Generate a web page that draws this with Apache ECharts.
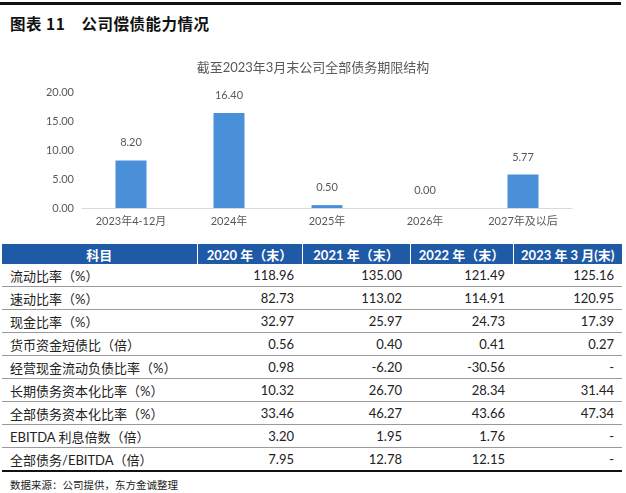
<!DOCTYPE html>
<html>
<head>
<meta charset="utf-8">
<script src="https://cdn.jsdelivr.net/npm/echarts@6/dist/echarts.min.js"></script>
<style>
  html, body { margin:0; padding:0; background:#fff; }
  body { width:626px; height:493px; position:relative; overflow:hidden;
         font-family: Lato, "Noto Sans CJK SC", sans-serif; }
  #topline { position:absolute; left:0; top:2px; width:621px; height:3px; background:#111; }
  #figtitle { position:absolute; left:10px; top:12px; font-size:15.5px; font-weight:bold; color:#111;
              font-family: "Noto Sans CJK SC", sans-serif; letter-spacing:0.5px; white-space:pre; }
  #chart { position:absolute; left:0; top:0; width:626px; height:240px; }
  #tbl { position:absolute; left:2px; top:244px; width:620px; border-collapse:collapse;
         font-size:13px; color:#222; table-layout:fixed; }
  #tbl th { background:#1f5aa6; color:#fff; font-weight:bold; height:20px; padding:0;
            border-left:1px solid #fff; font-size:13px; font-family: Lato, "Noto Sans CJK SC", sans-serif; }
  #tbl th:first-child { border-left:none; }
  #tbl td { height:22px; padding:0 8px; border-bottom:1px solid #9a9a9a; white-space:nowrap; }
  #tbl td.n { text-align:right; }
  #tbl tr:last-child td { border-bottom:2px solid #111; }
  #src { position:absolute; left:10px; top:477px; font-size:10.5px; color:#222;
         font-family: "Noto Sans CJK SC", sans-serif; }
</style>
</head>
<body>
<div id="topline"></div>
<div id="figtitle">图表 11    公司偿债能力情况</div>
<div id="chart"></div>
<table id="tbl"><colgroup>
  <col style="width:195px"><col style="width:105px"><col style="width:108px"><col style="width:103px"><col style="width:109px">
</colgroup><thead><tr id="hdr"></tr></thead><tbody id="tb"></tbody></table>
<div id="src">数据来源：公司提供，东方金诚整理</div>
<script>
// ---- chart data ----
const categories = ['2023年4-12月', '2024年', '2025年', '2026年', '2027年及以后'];
const debtValues = [8.20, 16.40, 0.50, 0.00, 5.77];
const yTicks = { min: 0, max: 20, interval: 5 };

// ---- table data ----
const tableHeader = ['科目', '2020 年（末）', '2021 年（末）', '2022 年（末）', '2023 年 3 月(末)'];
const rowNames = ['流动比率（%）', '速动比率（%）', '现金比率（%）', '货币资金短债比（倍）',
  '经营现金流动负债比率（%）', '长期债务资本化比率（%）', '全部债务资本化比率（%）',
  'EBITDA 利息倍数（倍）', '全部债务/EBITDA（倍）'];
const col2020 = ['118.96', '82.73', '32.97', '0.56', '0.98', '10.32', '33.46', '3.20', '7.95'];
const col2021 = ['135.00', '113.02', '25.97', '0.40', '-6.20', '26.70', '46.27', '1.95', '12.78'];
const col2022 = ['121.49', '114.91', '24.73', '0.41', '-30.56', '28.34', '43.66', '1.76', '12.15'];
const col2023Q1 = ['125.16', '120.95', '17.39', '0.27', '-', '31.44', '47.34', '-', '-'];

// build table
const hdr = document.getElementById('hdr');
tableHeader.forEach(h => { const th = document.createElement('th'); th.textContent = h; hdr.appendChild(th); });
const tb = document.getElementById('tb');
rowNames.forEach((name, i) => {
  const tr = document.createElement('tr');
  [name, col2020[i], col2021[i], col2022[i], col2023Q1[i]].forEach((v, j) => {
    const td = document.createElement('td'); td.textContent = v; if (j > 0) td.className = 'n'; tr.appendChild(td);
  });
  tb.appendChild(tr);
});

// chart
const chart = echarts.init(document.getElementById('chart'));
const grey = '#595959';
chart.setOption({
  animation: false,
  title: { text: '截至2023年3月末公司全部债务期限结构', left: 'center', top: 56,
           textStyle: { fontSize: 13, fontWeight: 'normal', color: grey, fontFamily: 'Lato, "Noto Sans CJK SC", sans-serif' } },
  grid: { left: 82, right: 54, top: 92, bottom: 32 },
  xAxis: { type: 'category', data: categories,
           axisLine: { lineStyle: { color: '#d9d9d9' } }, axisTick: { show: false },
           axisLabel: { color: grey, fontSize: 11, margin: 8, fontFamily: 'Lato, "Noto Sans CJK SC", sans-serif' } },
  yAxis: { type: 'value', min: yTicks.min, max: yTicks.max, interval: yTicks.interval,
           splitLine: { show: false }, axisLine: { show: false }, axisTick: { show: false },
           axisLabel: { color: grey, fontSize: 11, margin: 8, formatter: v => v.toFixed(2), fontFamily: 'Lato, sans-serif' } },
  series: [{ type: 'bar', data: debtValues, barWidth: 31,
             itemStyle: { color: '#4a90d9' },
             label: { show: true, position: 'top', distance: 12, color: grey, fontSize: 11,
                      formatter: p => p.value.toFixed(2), fontFamily: 'Lato, sans-serif' } }]
});
</script>
</body>
</html>
